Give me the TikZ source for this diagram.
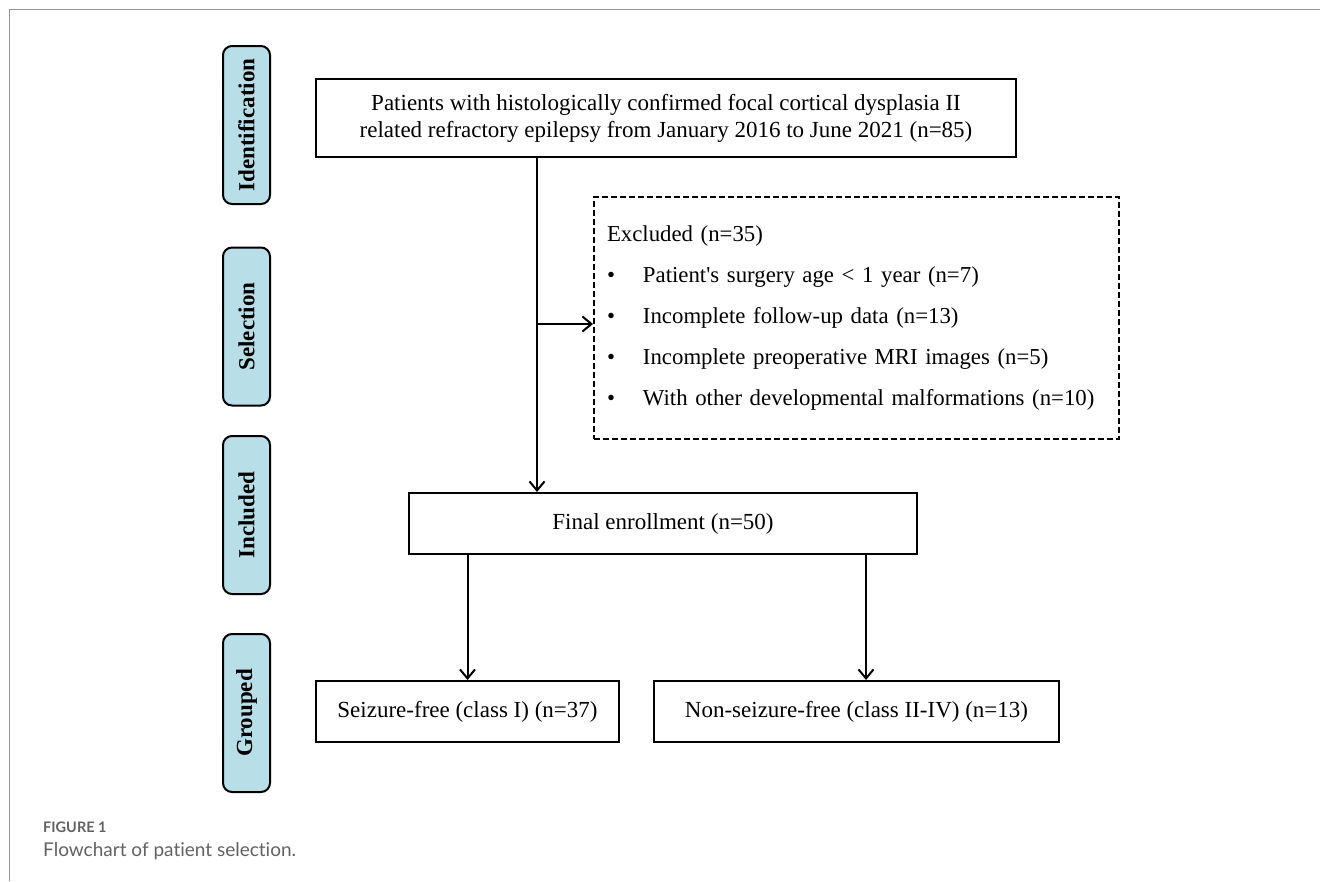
\documentclass[tikz,border=0pt]{standalone}
\usepackage{fontspec}
\setmainfont{Liberation Serif}
\newfontfamily\capfont[Ligatures={NoCommon}]{Lato}
\usepackage{xcolor}
\usetikzlibrary{arrows.meta, positioning, calc}

\definecolor{stagefill}{RGB}{184,223,232}
\definecolor{capgray}{RGB}{98,98,98}
\definecolor{framegray}{RGB}{150,150,150}

\tikzset{
  stagebox/.style={draw=black, line width=2pt, fill=stagefill, rounded corners=9pt, rotate=90,
    minimum width=158pt, minimum height=47pt, inner sep=0pt, font=\fontsize{23}{27}\selectfont\bfseries},
  flowbox/.style={draw=black, line width=2pt, inner sep=0pt, align=center, font=\fontsize{23}{27}\selectfont},
  flowarrow/.style={line width=2pt, -{Straight Barb[length=9pt,width=15pt]}},
}

\begin{document}
\begin{tikzpicture}[x=1pt, y=-1pt]
    \useasboundingbox (0,0) rectangle (1320,881);

    % frame
    \draw[framegray, line width=1.6pt] (9.5,881) -- (9.5,9.5) -- (1320,9.5);

    % stages
    \node[stagebox] (ident)  at (246.5,125)   {Identification};
    \node[stagebox] (select) at (246.5,326.5) {Selection};
    \node[stagebox] (incl)   at (246.5,515)   {Included};
    \node[stagebox] (group)  at (246.5,713)   {Grouped};

    % boxes
    \node[flowbox, minimum width=700pt, minimum height=78pt] (patients) at (666,118)
        {Patients with histologically confirmed focal cortical dysplasia II\\
         related refractory epilepsy from January 2016 to June 2021 (n=85)};
    \node[flowbox, dashed, dash pattern=on 6pt off 3pt, minimum width=525pt, minimum height=242pt,
          align=left, text width=499pt, font=\fontsize{22.8}{41}\selectfont] (excluded) at (856.5,318)
        {Excluded (n=35)\\
         \makebox[36pt][l]{\textbullet}Patient\textquotesingle s surgery age < 1 year (n=7)\\
         \makebox[36pt][l]{\textbullet}Incomplete follow-up data (n=13)\\
         \makebox[36pt][l]{\textbullet}Incomplete preoperative MRI images (n=5)\\
         \makebox[36pt][l]{\textbullet}With other developmental malformations (n=10)};
    \node[flowbox, minimum width=508pt, minimum height=61pt] (enroll) at (663,523.5) {Final enrollment (n=50)};
    \node[flowbox, minimum width=303pt, minimum height=61pt] (sfree) at (467.5,711.5) {Seizure-free (class I) (n=37)};
    \node[flowbox, minimum width=405pt, minimum height=61pt] (nsfree) at (856.5,711.5) {Non-seizure-free (class II-IV) (n=13)};

    % arrows
    \coordinate (split) at (537,324);
    \draw[flowarrow] (split |- patients.south) -- (split |- enroll.north);
    \draw[flowarrow] (split) -- (split -| excluded.west);
    \draw[flowarrow] (enroll.south -| sfree.north) -- (sfree.north);
    \draw[flowarrow] ([xshift=9.5pt]nsfree.north |- enroll.south) -- ([xshift=9.5pt]nsfree.north);

    % caption
    \node[anchor=base west, inner sep=0pt, text=capgray, font=\capfont\bfseries\fontsize{14.5}{17}\selectfont] (figlabel) at (43,832) {FIGURE 1};
    \node[anchor=base west, inner sep=0pt, text=capgray, font=\capfont\fontsize{19}{22}\selectfont] (figcaption) at (43,856) {Flowchart of patient selection.};
\end{tikzpicture}
\end{document}
